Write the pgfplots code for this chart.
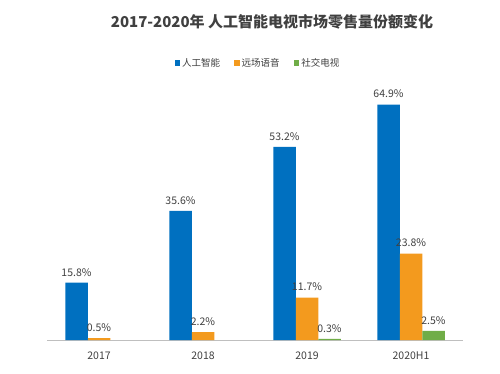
\documentclass[border=0pt]{standalone}
\usepackage{pgfplots}
\pgfplotsset{compat=1.18}
\usepackage{fontspec}
\setmainfont{Noto Sans CJK SC}
\definecolor{cblue}{HTML}{0070C0}
\definecolor{corange}{HTML}{F39A1E}
\definecolor{cgreen}{HTML}{70AD47}
\definecolor{ctext}{HTML}{404040}
\begin{document}
\begin{tikzpicture}[x=1bp,y=1bp]
\path (0,0) rectangle (500,373);
\node[font=\fontsize{15bp}{17bp}\selectfont\bfseries, text=ctext] at (272,351) {2017-2020年 人工智能电视市场零售量份额变化};
\begin{axis}[
  at={(47bp,33bp)}, anchor=south west,
  scale only axis, width=416bp, height=254bp,
  ybar=0pt, bar width=22.5bp,
  xmin=-0.5, xmax=3.5, ymin=0, ymax=70,
  xtick={0,1,2,3}, xticklabels={2017,2018,2019,2020H1},
  xtick style={draw=none}, ytick=\empty,
  axis x line*=bottom, axis y line=none,
  x axis line style={draw=gray!50, line width=0.8pt, -},
  /pgf/number format/assume math mode=true,
  ticklabel style={font=\fontsize{10.5bp}{12bp}\selectfont, text=ctext},
  xticklabel style={yshift=-4bp},
  nodes near coords={\pgfmathprintnumber[fixed,fixed zerofill,precision=1,assume math mode=true]{\pgfplotspointmeta}\%},
  nodes near coords style={font=\fontsize{10.5bp}{12bp}\selectfont, text=ctext, yshift=3bp},
  legend columns=3,
  legend style={draw=none, at={(0.507,1.09)}, anchor=center, font=\fontsize{9.5bp}{11bp}\selectfont, text=ctext, /tikz/every even column/.append style={column sep=12bp}},
  legend image code/.code={\fill[#1] (0bp,-2.8bp) rectangle (5.6bp,2.8bp);},
]
\addplot[draw=none, fill=cblue] coordinates {(0,15.8) (1,35.6) (2,53.2) (3,64.9)};
\addplot[draw=none, fill=corange] coordinates {(0,0.5) (1,2.2) (2,11.7) (3,23.8)};
\addplot[draw=none, fill=cgreen] coordinates {(2,0.3) (3,2.5)};
\legend{人工智能,远场语音,社交电视}
\end{axis}
\end{tikzpicture}
\end{document}
